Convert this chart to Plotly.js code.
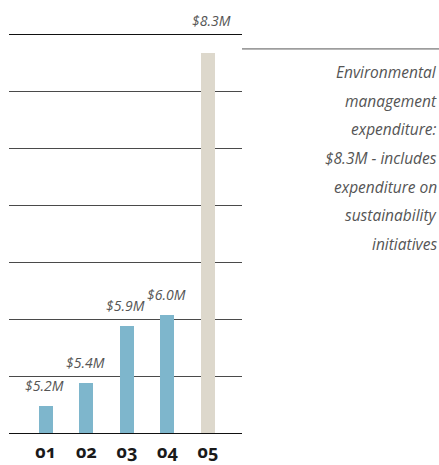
<!DOCTYPE html>
<html>
<head>
<meta charset="utf-8">
<script src="https://cdn.plot.ly/plotly-3.0.1.min.js"></script>
<style>
  html, body { margin: 0; padding: 0; background: #fff; }
  #chart { width: 439px; height: 465px; }
  .xtick text { font-variant-numeric: oldstyle-nums; font-feature-settings: "onum" 1; }
</style>
</head>
<body>
<div id="chart"></div>
<script>
// ---- data ----
const categories = ['01', '02', '03', '04', '05'];
const values = [5.2, 5.4, 5.9, 6.0, 8.3];
const valueLabels = ['$5.2M', '$5.4M', '$5.9M', '$6.0M', '$8.3M'];
const barColors = ['#7eb6cc', '#7eb6cc', '#7eb6cc', '#7eb6cc', '#ddd8cc'];
const noteLines = ['Environmental', 'management', 'expenditure:', '$8.3M - includes',
                   'expenditure on', 'sustainability', 'initiatives'];

// ---- styles ----
const labelFont = { family: '"Open Sans", Lato, sans-serif', size: 14, color: '#555555', style: 'italic' };
const noteFont = { family: '"Open Sans", Lato, sans-serif', size: 15.5, color: '#555555', style: 'italic' };

const trace = {
  type: 'bar',
  x: categories,
  y: values,
  width: 0.345,
  marker: { color: barColors, line: { width: 0 } },
  hoverinfo: 'skip'
};

const annotations = [];
const last = values.length - 1;
values.forEach((v, i) => {
  const isLast = i === last;
  annotations.push({
    x: i,
    xref: 'x',
    y: isLast ? 1 : v,
    yref: isLast ? 'paper' : 'y',
    text: valueLabels[i],
    showarrow: false,
    xanchor: 'center',
    yanchor: 'bottom',
    xshift: isLast ? 4 : -1,
    yshift: isLast ? 3 : 9,
    font: labelFont
  });
});
noteLines.forEach((t, i) => {
  annotations.push({
    x: 1.846, xref: 'paper',
    y: 0.965, yref: 'paper',
    text: t,
    showarrow: false,
    xanchor: 'right',
    yanchor: 'middle',
    align: 'right',
    yshift: -23 - i * 28.7,
    font: noteFont
  });
});

const layout = {
  width: 439,
  height: 465,
  margin: { l: 9, r: 197, t: 35, b: 32, pad: 0 },
  paper_bgcolor: '#ffffff',
  plot_bgcolor: '#ffffff',
  showlegend: false,
  bargap: 0,
  xaxis: {
    type: 'category',
    range: [-0.91, 4.84],
    showgrid: false,
    zeroline: false,
    showline: true,
    mirror: true,
    linecolor: '#111111',
    linewidth: 1,
    ticks: '',
    ticklabelstandoff: 2,
    tickfont: { family: '"Noto Sans", "Open Sans", sans-serif', size: 18, color: '#1a1a1a', weight: 'bold' },
    fixedrange: true
  },
  yaxis: {
    range: [4.96, 8.46],
    tick0: 4.96,
    dtick: 0.5,
    showgrid: true,
    gridcolor: '#4a4a4a',
    gridwidth: 1,
    zeroline: false,
    showline: false,
    showticklabels: false,
    ticks: '',
    fixedrange: true
  },
  shapes: [{
    type: 'line',
    xref: 'paper', yref: 'paper',
    x0: 1, x1: 1.846, y0: 0.965, y1: 0.965,
    line: { color: '#555555', width: 1 }
  }],
  annotations: annotations
};

Plotly.newPlot('chart', [trace], layout, { displayModeBar: false, staticPlot: true });
</script>
</body>
</html>
